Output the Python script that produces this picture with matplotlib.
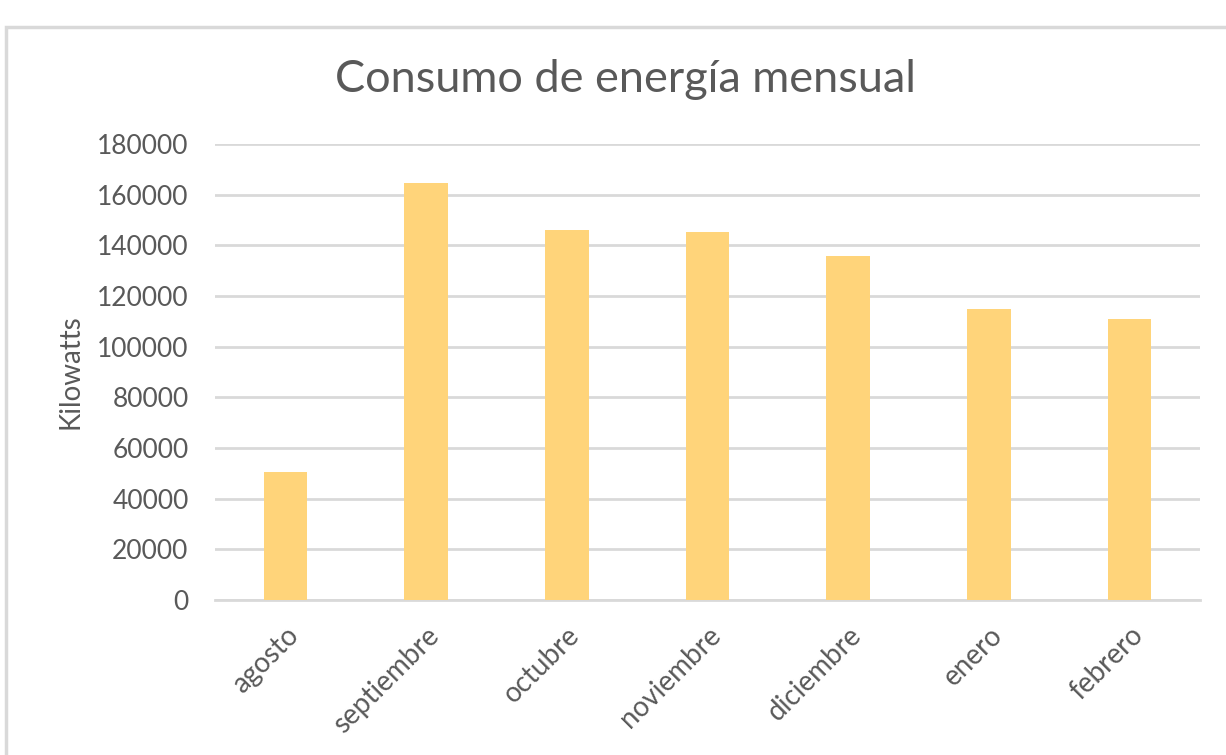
import matplotlib
matplotlib.use("Agg")
import matplotlib.pyplot as plt
from matplotlib.patches import Rectangle

months = ["agosto", "septiembre", "octubre", "noviembre", "diciembre", "enero", "febrero"]
consumo = [50400, 164700, 146000, 145400, 135800, 115000, 111000]
yticks = [0, 20000, 40000, 60000, 80000, 100000, 120000, 140000, 160000, 180000]

plt.rcParams['font.family'] = ['Lato', 'DejaVu Sans']
txt = "#595959"
grid = "#d9d9d9"

fig = plt.figure(figsize=(12.26, 7.55), dpi=100)
ax = fig.add_axes([215/1226, 1-600/755, 985/1226, (600-144)/755])

x = range(len(months))
ax.bar(x, consumo, width=0.31, color="#FFD47A", zorder=3)
ax.set_xlim(-0.5, len(months)-0.5)
ax.set_ylim(0, 180000)
ax.set_yticks(yticks)
ax.set_yticklabels([str(v) for v in yticks], fontsize=19, color=txt)
ax.set_xticks(list(x))
ax.set_xticklabels(months, rotation=45, ha='right', rotation_mode='anchor', fontsize=20, color=txt)
ax.tick_params(axis='both', length=0)
ax.tick_params(axis='y', pad=19)
ax.tick_params(axis='x', pad=16)
ax.grid(axis='y', color=grid, linewidth=2, zorder=0)
for s in ['top', 'right', 'left']:
    ax.spines[s].set_visible(False)
ax.spines['bottom'].set_color(grid)
ax.spines['bottom'].set_linewidth(2)
ax.set_ylabel("Kilowatts", fontsize=20, color=txt, labelpad=10)
fig.text(626/1226, 1-80/755, "Consumo de energía mensual", fontsize=32.5, color=txt, ha='center', va='center')

fig.patches.append(Rectangle((6/1226, -0.1), 1.2, 1.1 - 27/755, transform=fig.transFigure,
                             fill=False, edgecolor=grid, linewidth=2.5))

fig.savefig("out.png", dpi=100, facecolor="white")
